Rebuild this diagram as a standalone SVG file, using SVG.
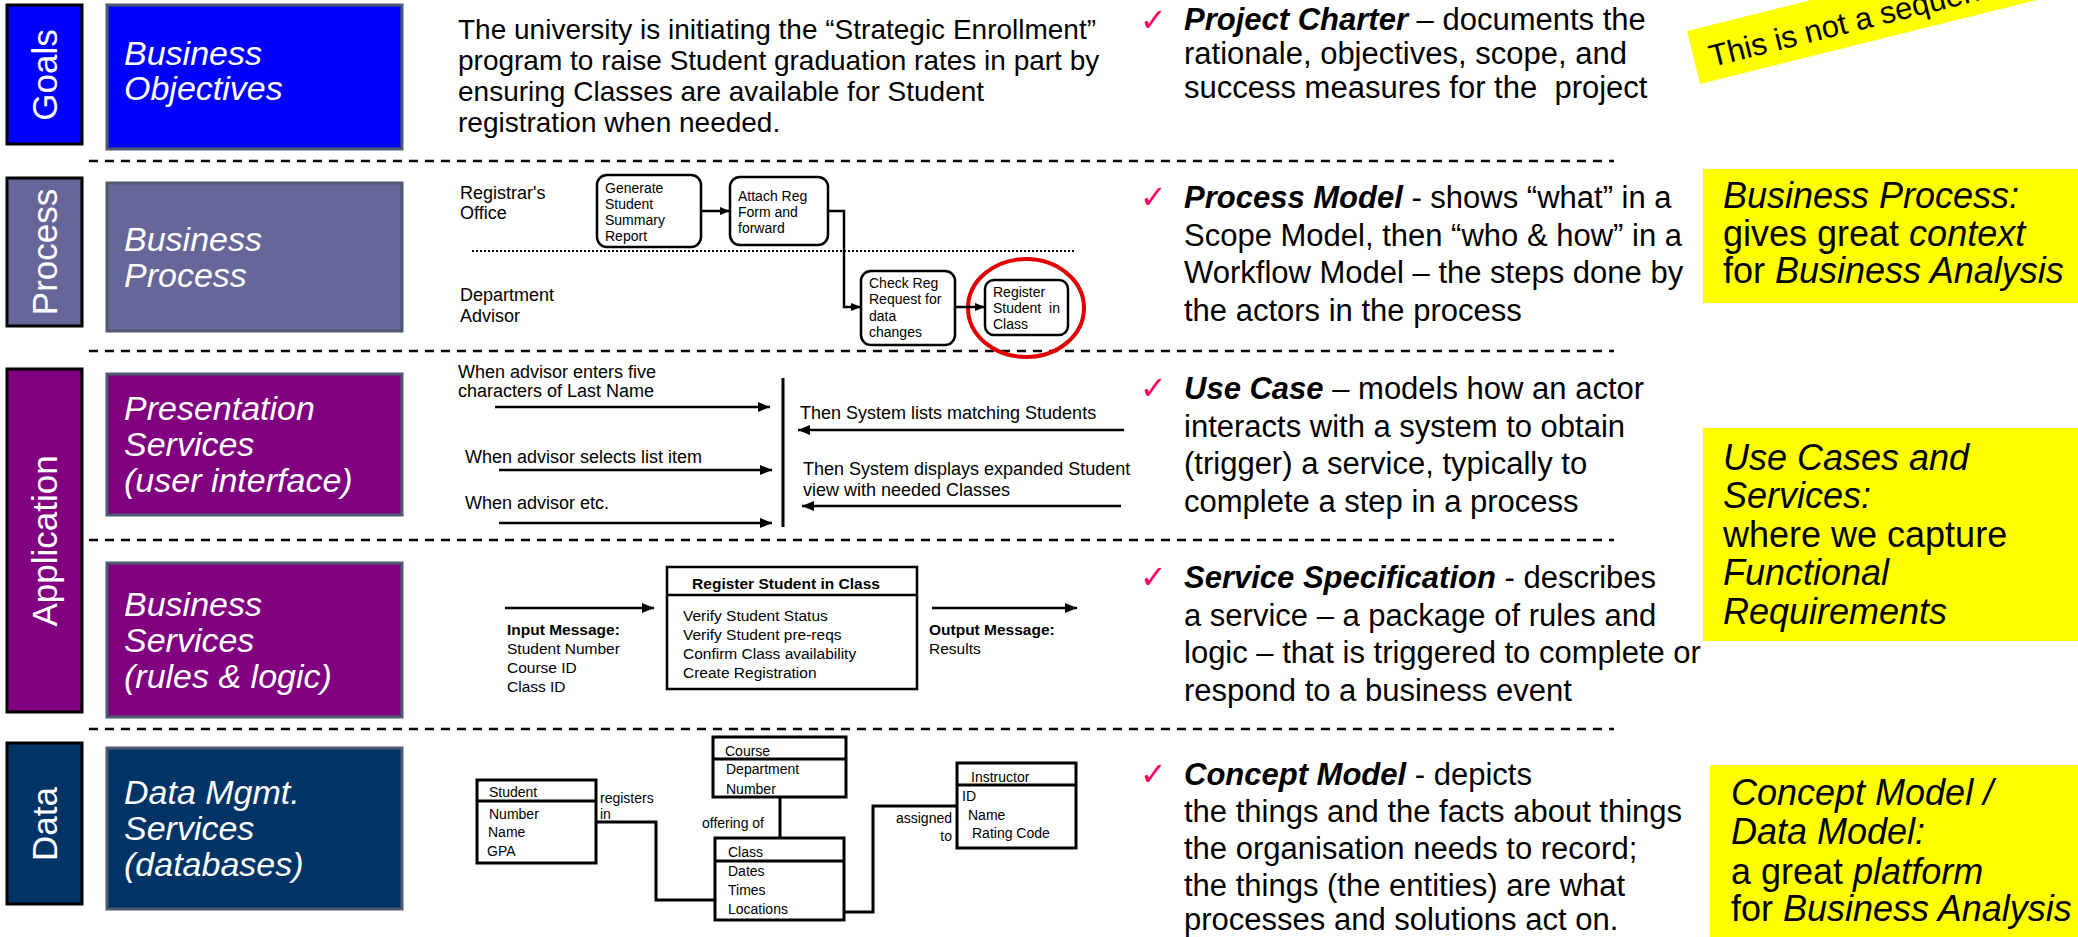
<svg xmlns="http://www.w3.org/2000/svg" width="2078" height="937" viewBox="0 0 2078 937">
<defs>
<style>
text{font-family:"Liberation Sans",Arial,sans-serif;fill:#000;}
.lab{fill:#fff;font-size:34px;font-style:italic;}
.vl{fill:#fff;font-size:35px;text-anchor:middle;}
.it{font-style:italic;}
.bd{font-weight:bold;}
.bi{font-weight:bold;font-style:italic;}
.gt{font-size:28px;}
.rt{font-size:31px;}
.yt{font-size:36px;}
.ck{font-family:"DejaVu Sans",sans-serif;font-size:32px;fill:#FF0066;}
.dash{stroke:#000;stroke-width:2.5;stroke-dasharray:9 7;fill:none;}
.dot{stroke:#000;stroke-width:2;stroke-dasharray:2 2;fill:none;}
.pt{font-size:18px;}
.st{font-size:14px;}
.bs{font-size:15.5px;}
.dm{font-size:14px;}
.pbox{fill:#fff;stroke:#000;stroke-width:2.5;}
.ebox{fill:#fff;stroke:#000;stroke-width:3;}
.ln{stroke:#000;stroke-width:2.5;fill:none;}
.ln3{stroke:#000;stroke-width:3;fill:none;}
.lbox{stroke:#000;stroke-width:3;}
.mbox{stroke:#4d5a70;stroke-width:3;}
.yel{fill:#FFFF00;}
</style>
<marker id="ah" viewBox="0 0 12 10" refX="12" refY="5" markerWidth="12" markerHeight="10" markerUnits="userSpaceOnUse" orient="auto"><path d="M0,0 L12,5 L0,10 z" fill="#000"/></marker>
<marker id="ahs" viewBox="0 0 10 8" refX="10" refY="4" markerWidth="10" markerHeight="8" markerUnits="userSpaceOnUse" orient="auto"><path d="M0,0 L10,4 L0,8 z" fill="#000"/></marker>
</defs>

<!-- Left column -->
<g id="goals-label"><rect class="lbox" x="7" y="5" width="75" height="139" fill="#0000FF"/><text class="vl" transform="translate(57,75) rotate(-90)">Goals</text></g>
<g id="business-objectives"><rect class="mbox" x="107" y="5" width="295" height="144" fill="#0000FF"/><text class="lab" x="124" y="65">Business</text><text class="lab" x="124" y="100">Objectives</text></g>

<g id="process-label"><rect class="lbox" x="7" y="178" width="75" height="148" fill="#666699"/><text class="vl" transform="translate(57,252) rotate(-90)">Process</text></g>
<g id="business-process"><rect class="mbox" x="107" y="183" width="295" height="148" fill="#666699"/><text class="lab" x="124" y="251">Business</text><text class="lab" x="124" y="287">Process</text></g>

<g id="application-label"><rect class="lbox" x="7" y="369" width="75" height="343" fill="#800080"/><text class="vl" transform="translate(57,541) rotate(-90)">Application</text></g>
<g id="presentation-services"><rect class="mbox" x="107" y="374" width="295" height="141" fill="#800080"/><text class="lab" x="124" y="420">Presentation</text><text class="lab" x="124" y="456">Services</text><text class="lab" x="124" y="492">(user interface)</text></g>
<g id="business-services"><rect class="mbox" x="107" y="563" width="295" height="154" fill="#800080"/><text class="lab" x="124" y="616">Business</text><text class="lab" x="124" y="652">Services</text><text class="lab" x="124" y="688">(rules &amp; logic)</text></g>

<g id="data-label"><rect class="lbox" x="7" y="743" width="75" height="161" fill="#003366"/><text class="vl" transform="translate(57,824) rotate(-90)">Data</text></g>
<g id="data-services"><rect class="mbox" x="107" y="748" width="295" height="161" fill="#003366"/><text class="lab" x="124" y="804">Data Mgmt.</text><text class="lab" x="124" y="840">Services</text><text class="lab" x="124" y="876">(databases)</text></g>

<!-- separators -->
<g id="separators">
<line class="dash" x1="89" y1="161" x2="1614" y2="161"/>
<line class="dash" x1="89" y1="351" x2="1614" y2="351"/>
<line class="dash" x1="89" y1="540" x2="1614" y2="540"/>
<line class="dash" x1="89" y1="729" x2="1614" y2="729"/>
</g>

<!-- Goals text -->
<g id="goals-text">
<text class="gt" x="458" y="39">The university is initiating the “Strategic Enrollment”</text>
<text class="gt" x="458" y="70">program to raise Student graduation rates in part by</text>
<text class="gt" x="458" y="101">ensuring Classes are available for Student</text>
<text class="gt" x="458" y="132">registration when needed.</text>
</g>

<!-- Process model -->
<g id="lane-registrar"><text class="pt" x="460" y="199">Registrar's</text><text class="pt" x="460" y="219">Office</text></g>
<g id="lane-advisor"><text class="pt" x="460" y="301">Department</text><text class="pt" x="460" y="322">Advisor</text></g>
<line class="dot" x1="472" y1="251" x2="1076" y2="251"/>
<g id="p-generate"><rect class="pbox" x="597" y="175" width="104" height="72" rx="10"/><text class="st" x="605" y="193">Generate</text><text class="st" x="605" y="209">Student</text><text class="st" x="605" y="225">Summary</text><text class="st" x="605" y="241">Report</text></g>
<g id="p-attach"><rect class="pbox" x="730" y="177" width="98" height="68" rx="10"/><text class="st" x="738" y="201">Attach Reg</text><text class="st" x="738" y="217">Form and</text><text class="st" x="738" y="233">forward</text></g>
<g id="p-check"><rect class="pbox" x="861" y="271" width="94" height="74" rx="10"/><text class="st" x="869" y="288">Check Reg</text><text class="st" x="869" y="304">Request for</text><text class="st" x="869" y="321">data</text><text class="st" x="869" y="337">changes</text></g>
<g id="p-register"><rect class="pbox" x="985" y="280" width="83" height="55" rx="9"/><text class="st" x="993" y="297">Register</text><text class="st" x="993" y="313">Student&#160; in</text><text class="st" x="993" y="329">Class</text><ellipse cx="1026" cy="308" rx="58" ry="49" fill="none" stroke="#E00000" stroke-width="4"/></g>

<!-- Presentation services -->
<g id="ui-events">
<text class="pt" x="458" y="378">When advisor enters five</text>
<text class="pt" x="458" y="397">characters of Last Name</text>
<text class="pt" x="465" y="463">When advisor selects list item</text>
<text class="pt" x="465" y="509">When advisor etc.</text>
</g>
<g id="ui-responses">
<text class="pt" x="800" y="419">Then System lists matching Students</text>
<text class="pt" x="803" y="475">Then System displays expanded Student</text>
<text class="pt" x="803" y="496">view with needed Classes</text>
</g>

<!-- Business services -->
<g id="input-message"><text class="bs bd" x="507" y="635">Input Message:</text><text class="bs" x="507" y="654">Student Number</text><text class="bs" x="507" y="673">Course ID</text><text class="bs" x="507" y="692">Class ID</text></g>
<g id="service-register"><rect class="pbox" x="667" y="567" width="250" height="122"/><line class="ln" x1="667" y1="595" x2="917" y2="595"/><text class="bs bd" x="786" y="589" text-anchor="middle">Register Student in Class</text><text class="bs" x="683" y="621">Verify Student Status</text><text class="bs" x="683" y="640">Verify Student pre-reqs</text><text class="bs" x="683" y="659">Confirm Class availability</text><text class="bs" x="683" y="678">Create Registration</text></g>
<g id="output-message"><text class="bs bd" x="929" y="635">Output Message:</text><text class="bs" x="929" y="654">Results</text></g>

<!-- Data model -->
<g id="e-student"><rect class="ebox" x="477" y="780" width="119" height="83"/><line class="ln3" x1="477" y1="801" x2="596" y2="801"/><text class="dm" x="489" y="797">Student</text><text class="dm" x="489" y="819">Number</text><text class="dm" x="488" y="837">Name</text><text class="dm" x="487" y="856">GPA</text></g>
<g id="e-course"><rect class="ebox" x="713" y="737" width="133" height="60"/><line class="ln3" x1="713" y1="759" x2="846" y2="759"/><text class="dm" x="725" y="756">Course</text><text class="dm" x="726" y="774">Department</text><text class="dm" x="726" y="794">Number</text></g>
<g id="e-class"><rect class="ebox" x="715" y="838" width="129" height="82"/><line class="ln3" x1="715" y1="861" x2="844" y2="861"/><text class="dm" x="728" y="857">Class</text><text class="dm" x="728" y="876">Dates</text><text class="dm" x="728" y="895">Times</text><text class="dm" x="728" y="914">Locations</text></g>
<g id="e-instructor"><rect class="ebox" x="957" y="763" width="119" height="85"/><line class="ln3" x1="957" y1="785" x2="1076" y2="785"/><text class="dm" x="971" y="782">Instructor</text><text class="dm" x="962" y="801">ID</text><text class="dm" x="968" y="820">Name</text><text class="dm" x="972" y="838">Rating Code</text></g>

<!-- Connectors -->
<g id="connectors">
<line class="ln" x1="701" y1="211" x2="730" y2="211" marker-end="url(#ahs)"/>
<polyline class="ln" points="828,211 844,211 844,307 861,307" marker-end="url(#ahs)"/>
<line class="ln" x1="955" y1="307" x2="985" y2="307" marker-end="url(#ahs)"/>
<line class="ln" x1="495" y1="407" x2="770" y2="407" marker-end="url(#ah)"/>
<line class="ln" x1="499" y1="470" x2="772" y2="470" marker-end="url(#ah)"/>
<line class="ln" x1="499" y1="523" x2="772" y2="523" marker-end="url(#ah)"/>
<line class="ln3" x1="783" y1="378" x2="783" y2="527"/>
<line class="ln" x1="1124" y1="430" x2="798" y2="430" marker-end="url(#ah)"/>
<line class="ln" x1="1121" y1="506" x2="802" y2="506" marker-end="url(#ah)"/>
<line class="ln" x1="505" y1="608" x2="654" y2="608" marker-end="url(#ah)"/>
<line class="ln" x1="932" y1="608" x2="1077" y2="608" marker-end="url(#ah)"/>
<polyline class="ln3" points="596,822 656,822 656,900 715,900"/>
<line class="ln3" x1="780" y1="797" x2="780" y2="838"/>
<polyline class="ln3" points="957,806 873,806 873,912 844,912"/>
<text class="dm" x="600" y="803">registers</text><text class="dm" x="600" y="819">in</text>
<text class="dm" x="702" y="828">offering of</text>
<text class="dm" x="952" y="823" text-anchor="end">assigned</text><text class="dm" x="952" y="841" text-anchor="end">to</text>
</g>

<!-- Right column -->
<g id="d-project-charter"><text class="ck" x="1140" y="31">✓</text>
<text class="rt" x="1184" y="30"><tspan class="bi">Project Charter</tspan> – documents the</text>
<text class="rt" x="1184" y="64">rationale, objectives, scope, and</text>
<text class="rt" x="1184" y="98">success measures for the&#160; project</text></g>
<g id="d-process-model"><text class="ck" x="1140" y="208">✓</text>
<text class="rt" x="1184" y="208"><tspan class="bi">Process Model</tspan> - shows “what” in a</text>
<text class="rt" x="1184" y="245.5">Scope Model, then “who &amp; how” in a</text>
<text class="rt" x="1184" y="283">Workflow Model – the steps done by</text>
<text class="rt" x="1184" y="320.5">the actors in the process</text></g>
<g id="d-use-case"><text class="ck" x="1140" y="399">✓</text>
<text class="rt" x="1184" y="399"><tspan class="bi">Use Case</tspan> – models how an actor</text>
<text class="rt" x="1184" y="436.5">interacts with a system to obtain</text>
<text class="rt" x="1184" y="474">(trigger) a service, typically to</text>
<text class="rt" x="1184" y="511.5">complete a step in a process</text></g>
<g id="d-service-spec"><text class="ck" x="1140" y="588">✓</text>
<text class="rt" x="1184" y="588"><tspan class="bi">Service Specification</tspan> - describes</text>
<text class="rt" x="1184" y="625.5">a service – a package of rules and</text>
<text class="rt" x="1184" y="663">logic – that is triggered to complete or</text>
<text class="rt" x="1184" y="700.5">respond to a business event</text></g>
<g id="d-concept-model"><text class="ck" x="1140" y="785">✓</text>
<text class="rt" x="1184" y="785"><tspan class="bi">Concept Model</tspan> - depicts</text>
<text class="rt" x="1184" y="822">the things and the facts about things</text>
<text class="rt" x="1184" y="859">the organisation needs to record;</text>
<text class="rt" x="1184" y="896">the things (the entities) are what</text>
<text class="rt" x="1184" y="930">processes and solutions act on.</text></g>

<!-- Notes -->
<g id="note-sequence"><polygon class="yel" points="1700,84 2185,-37 2172,-90 1687,31"/><text class="rt" font-size="32" transform="translate(1712,67) rotate(-14)">This is not a sequence</text></g>
<g id="note-process"><rect class="yel" x="1703" y="169" width="375" height="134"/>
<text class="yt it" x="1723" y="208">Business Process:</text>
<text class="yt" x="1723" y="245.5">gives great <tspan class="it">context</tspan></text>
<text class="yt" x="1723" y="283">for <tspan class="it">Business Analysis</tspan></text></g>
<g id="note-usecases"><rect class="yel" x="1703" y="428" width="375" height="213"/>
<text class="yt it" x="1723" y="470">Use Cases and</text>
<text class="yt it" x="1723" y="508">Services:</text>
<text class="yt" x="1723" y="547">where we capture</text>
<text class="yt it" x="1723" y="585">Functional</text>
<text class="yt it" x="1723" y="624">Requirements</text></g>
<g id="note-concept"><rect class="yel" x="1710" y="765" width="368" height="172"/>
<text class="yt it" x="1731" y="805">Concept Model /</text>
<text class="yt it" x="1731" y="844">Data Model:</text>
<text class="yt" x="1731" y="884">a great <tspan class="it">platform</tspan></text>
<text class="yt" x="1731" y="921">for <tspan class="it">Business Analysis</tspan></text></g>
</svg>
